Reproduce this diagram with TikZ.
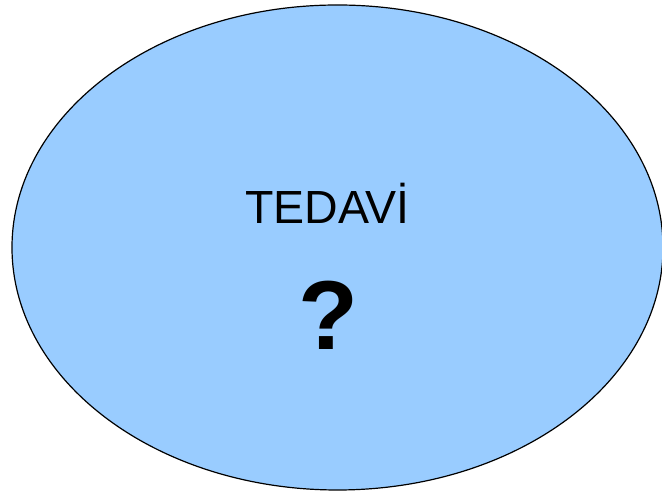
\documentclass[tikz,border=0pt]{standalone}
\usepackage{fontspec}
\setmainfont{Liberation Sans}
\usetikzlibrary{shapes.geometric}

\definecolor{ovalblue}{HTML}{99CCFF}
\tikzset{
    oval/.style={ellipse, draw=black, line width=1.2pt, fill=ovalblue,
        minimum width=651pt, minimum height=485pt, inner sep=0pt},
    title/.style={anchor=base, inner sep=0pt, font=\fontsize{46.5}{55}\selectfont},
    query/.style={anchor=base, inner sep=0pt, font=\fontsize{98}{110}\selectfont\bfseries}
}

\begin{document}
\begin{tikzpicture}[x=1pt, y=1pt]
    \useasboundingbox (0,0) rectangle (662,494);

    \node[oval] (tedavi) at (337.5,246.5) {};

    \node[title] (baslik) at (327.5,270) {TEDAVİ};
    \node[query] (soru) at (328.5,144) {?};

\end{tikzpicture}
\end{document}
